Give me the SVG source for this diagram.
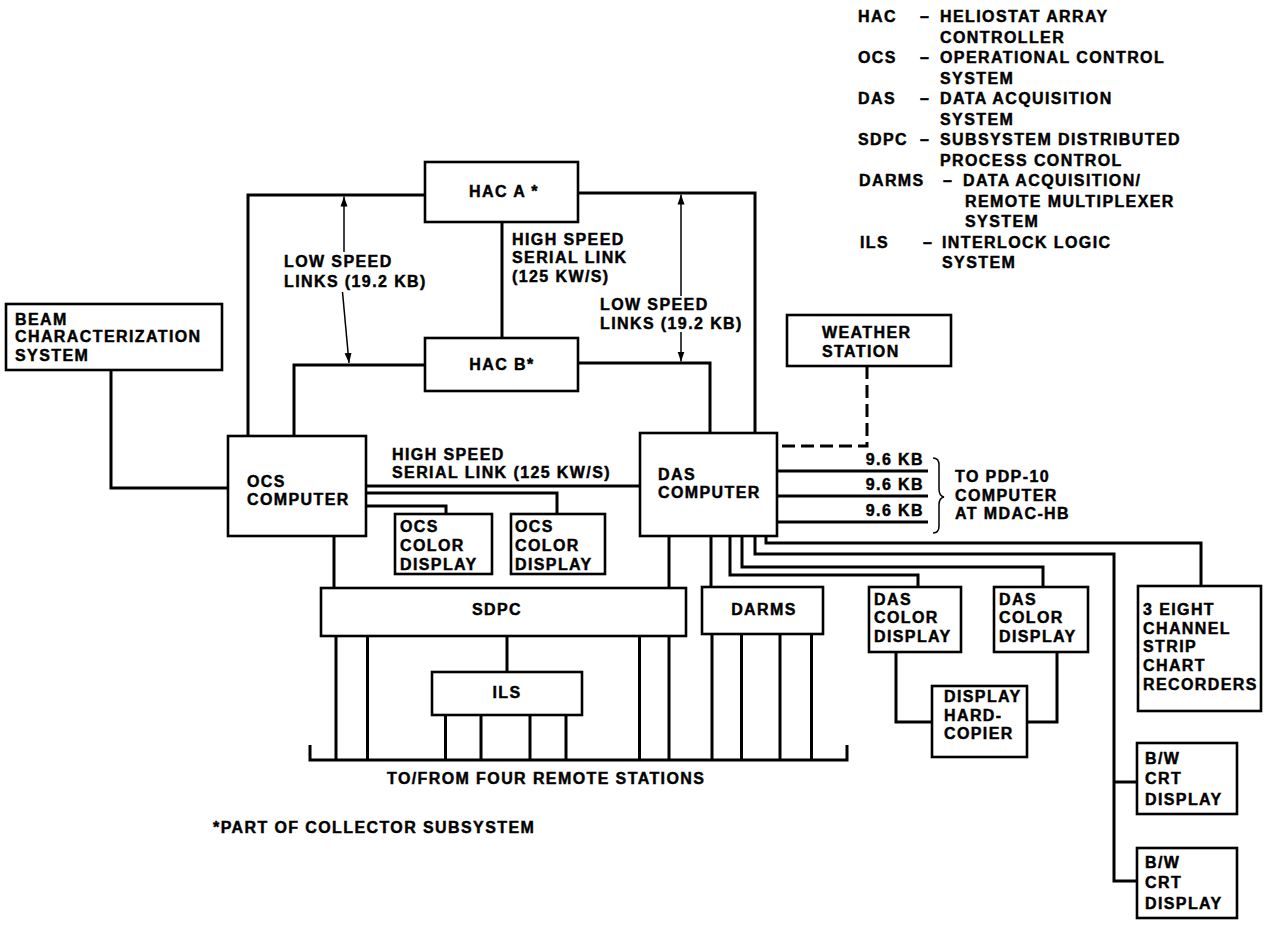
<svg xmlns="http://www.w3.org/2000/svg" width="1268" height="929" viewBox="0 0 1268 929">
<defs>
<style>
.t{font-family:"Liberation Sans",Arial,Helvetica,sans-serif;font-weight:bold;font-size:16px;letter-spacing:1.4px;fill:#000;stroke:#000;stroke-width:0.45px}
.m{text-anchor:middle}
.box{fill:#fff;stroke:#000;stroke-width:2.6}
.ln{fill:none;stroke:#000;stroke-width:3;stroke-linejoin:miter}
.th{fill:none;stroke:#000;stroke-width:1.5}
.dash{fill:none;stroke:#000;stroke-width:3;stroke-dasharray:13 6}
</style>
<marker id="ah" viewBox="0 0 10 10" refX="10" refY="5" markerWidth="10" markerHeight="10" markerUnits="userSpaceOnUse" orient="auto">
<path d="M0,1.5 L10,5 L0,8.5 Z" fill="#000"/>
</marker>
</defs>
<rect width="1268" height="929" fill="#fff"/>

<g id="legend">
<text class="t" x="858" y="22">HAC</text><text class="t" x="920" y="22">–</text><text class="t" x="940" y="22">HELIOSTAT ARRAY</text>
<text class="t" x="940" y="42.5">CONTROLLER</text>
<text class="t" x="858" y="63">OCS</text><text class="t" x="920" y="63">–</text><text class="t" x="940" y="63">OPERATIONAL CONTROL</text>
<text class="t" x="940" y="83.5">SYSTEM</text>
<text class="t" x="858" y="104">DAS</text><text class="t" x="920" y="104">–</text><text class="t" x="940" y="104">DATA ACQUISITION</text>
<text class="t" x="940" y="124.5">SYSTEM</text>
<text class="t" x="858" y="145">SDPC</text><text class="t" x="920" y="145">–</text><text class="t" x="940" y="145">SUBSYSTEM DISTRIBUTED</text>
<text class="t" x="940" y="165.5">PROCESS CONTROL</text>
<text class="t" x="859" y="186">DARMS</text><text class="t" x="943" y="186">–</text><text class="t" x="963" y="186">DATA ACQUISITION/</text>
<text class="t" x="965" y="206.5">REMOTE MULTIPLEXER</text>
<text class="t" x="965" y="227">SYSTEM</text>
<text class="t" x="860" y="247.5">ILS</text><text class="t" x="923" y="247.5">–</text><text class="t" x="942" y="247.5">INTERLOCK LOGIC</text>
<text class="t" x="942" y="268">SYSTEM</text>
</g>

<g id="connectors">
<path class="ln" d="M248,436 V195 H425"/>
<path class="ln" d="M578,193 H755 V433"/>
<path class="ln" d="M502,222 V338"/>
<path class="ln" d="M425,365 H294 V436"/>
<path class="ln" d="M578,363 H710 V433"/>
<path class="ln" d="M111,370 V488 H228"/>
<path class="ln" d="M366,486 H640"/>
<path class="ln" d="M366,493 H557 V514"/>
<path class="ln" d="M366,506 H446 V514"/>
<path class="ln" d="M334,536 V588"/>
<path class="ln" d="M669,536 V588"/>
<path class="ln" d="M711,536 V587"/>
<path class="ln" d="M730,536 V575 H918 V587"/>
<path class="ln" d="M742,536 V567 H1043 V587"/>
<path class="ln" d="M755,536 V554 H1114 V881 H1137"/>
<path class="ln" d="M1114,782 H1137"/>
<path class="ln" d="M766,536 V543 H1201 V586"/>
<path class="dash" d="M867,366 V446 H777"/>
<path class="ln" d="M777,471 H928" stroke-width="3.5"/>
<path class="ln" d="M777,496 H928" stroke-width="3.5"/>
<path class="ln" d="M777,522 H928" stroke-width="3.5"/>
<path class="th" d="M933,458 Q939,458 939,465 V489 Q939,496 944,497 Q939,498 939,505 V526 Q939,533 933,533" stroke-width="2"/>
<path class="ln" d="M896,652 V722 H932"/>
<path class="ln" d="M1057,652 V722 H1027"/>
<path class="ln" d="M507,636 V672"/>
<path class="ln" d="M310,745 V760 H847 V745"/>
<path class="ln" d="M336,636 V760 M367.5,636 V760 M639.5,636 V760 M669,636 V760"/>
<path class="ln" d="M445.5,715 V760 M481,715 V760 M530,715 V760 M566,715 V760"/>
<path class="ln" d="M712,634 V760 M741.5,634 V760 M780,634 V760 M811.5,634 V760"/>
<line class="th" x1="344" y1="252" x2="344" y2="196.5" marker-end="url(#ah)"/>
<line class="th" x1="342.5" y1="292" x2="349" y2="363" marker-end="url(#ah)"/>
<line class="th" x1="681" y1="296" x2="681" y2="194.5" marker-end="url(#ah)"/>
<line class="th" x1="681" y1="332" x2="681" y2="361.5" marker-end="url(#ah)"/>
</g>

<g id="labels">
<text class="t" x="284" y="267">LOW SPEED</text>
<text class="t" x="284" y="287">LINKS (19.2 KB)</text>
<text class="t" x="512" y="245">HIGH SPEED</text>
<text class="t" x="512" y="263">SERIAL LINK</text>
<text class="t" x="512" y="282">(125 KW/S)</text>
<text class="t" x="600" y="310">LOW SPEED</text>
<text class="t" x="600" y="329">LINKS (19.2 KB)</text>
<text class="t" x="392" y="460">HIGH SPEED</text>
<text class="t" x="392" y="478">SERIAL LINK (125 KW/S)</text>
<text class="t" x="924" y="465" text-anchor="end">9.6 KB</text>
<text class="t" x="924" y="490" text-anchor="end">9.6 KB</text>
<text class="t" x="924" y="516" text-anchor="end">9.6 KB</text>
<text class="t" x="955" y="482">TO PDP-10</text>
<text class="t" x="955" y="501">COMPUTER</text>
<text class="t" x="955" y="519">AT MDAC-HB</text>
<text class="t" x="387" y="784">TO/FROM FOUR REMOTE STATIONS</text>
<text class="t" x="213" y="833">*PART OF COLLECTOR SUBSYSTEM</text>
</g>

<g id="hac-a"><rect class="box" x="425" y="162" width="153" height="60"/><text class="t m" x="504" y="197">HAC A *</text></g>
<g id="hac-b"><rect class="box" x="425" y="338" width="153" height="53"/><text class="t m" x="502" y="370">HAC B*</text></g>
<g id="beam"><rect class="box" x="6" y="304" width="216" height="66"/>
<text class="t" x="15" y="325">BEAM</text><text class="t" x="15" y="342">CHARACTERIZATION</text><text class="t" x="15" y="361">SYSTEM</text></g>
<g id="ocs"><rect class="box" x="228" y="436" width="138" height="100"/>
<text class="t" x="247" y="487">OCS</text><text class="t" x="247" y="505">COMPUTER</text></g>
<g id="das"><rect class="box" x="640" y="433" width="137" height="103"/>
<text class="t" x="658" y="480">DAS</text><text class="t" x="658" y="498">COMPUTER</text></g>
<g id="ocs-disp-1"><rect class="box" x="395" y="514" width="97" height="60"/>
<text class="t" x="400" y="532">OCS</text><text class="t" x="400" y="551">COLOR</text><text class="t" x="400" y="570">DISPLAY</text></g>
<g id="ocs-disp-2"><rect class="box" x="511" y="514" width="94" height="60"/>
<text class="t" x="515" y="532">OCS</text><text class="t" x="515" y="551">COLOR</text><text class="t" x="515" y="570">DISPLAY</text></g>
<g id="weather"><rect class="box" x="787" y="315" width="164" height="51"/>
<text class="t" x="822" y="338">WEATHER</text><text class="t" x="822" y="357">STATION</text></g>
<g id="sdpc"><rect class="box" x="321" y="588" width="365" height="48"/><text class="t m" x="497" y="615">SDPC</text></g>
<g id="darms"><rect class="box" x="702" y="587" width="121" height="47"/><text class="t m" x="764" y="615">DARMS</text></g>
<g id="ils"><rect class="box" x="432" y="672" width="150" height="43"/><text class="t m" x="507" y="698">ILS</text></g>
<g id="das-disp-1"><rect class="box" x="869" y="587" width="92" height="65"/>
<text class="t" x="874" y="605">DAS</text><text class="t" x="874" y="623">COLOR</text><text class="t" x="874" y="642">DISPLAY</text></g>
<g id="das-disp-2"><rect class="box" x="994" y="587" width="94" height="65"/>
<text class="t" x="999" y="605">DAS</text><text class="t" x="999" y="623">COLOR</text><text class="t" x="999" y="642">DISPLAY</text></g>
<g id="copier"><rect class="box" x="932" y="686" width="95" height="71"/>
<text class="t" x="944" y="702">DISPLAY</text><text class="t" x="944" y="721">HARD-</text><text class="t" x="944" y="739">COPIER</text></g>
<g id="recorders"><rect class="box" x="1138" y="586" width="123" height="125"/>
<text class="t" x="1143" y="615">3 EIGHT</text><text class="t" x="1143" y="634">CHANNEL</text><text class="t" x="1143" y="652">STRIP</text><text class="t" x="1143" y="671">CHART</text><text class="t" x="1143" y="690">RECORDERS</text></g>
<g id="bw-crt-1"><rect class="box" x="1137" y="743" width="100" height="71"/>
<text class="t" x="1145" y="764">B/W</text><text class="t" x="1145" y="784">CRT</text><text class="t" x="1145" y="805">DISPLAY</text></g>
<g id="bw-crt-2"><rect class="box" x="1137" y="848" width="100" height="70"/>
<text class="t" x="1145" y="868">B/W</text><text class="t" x="1145" y="888">CRT</text><text class="t" x="1145" y="909">DISPLAY</text></g>
</svg>
